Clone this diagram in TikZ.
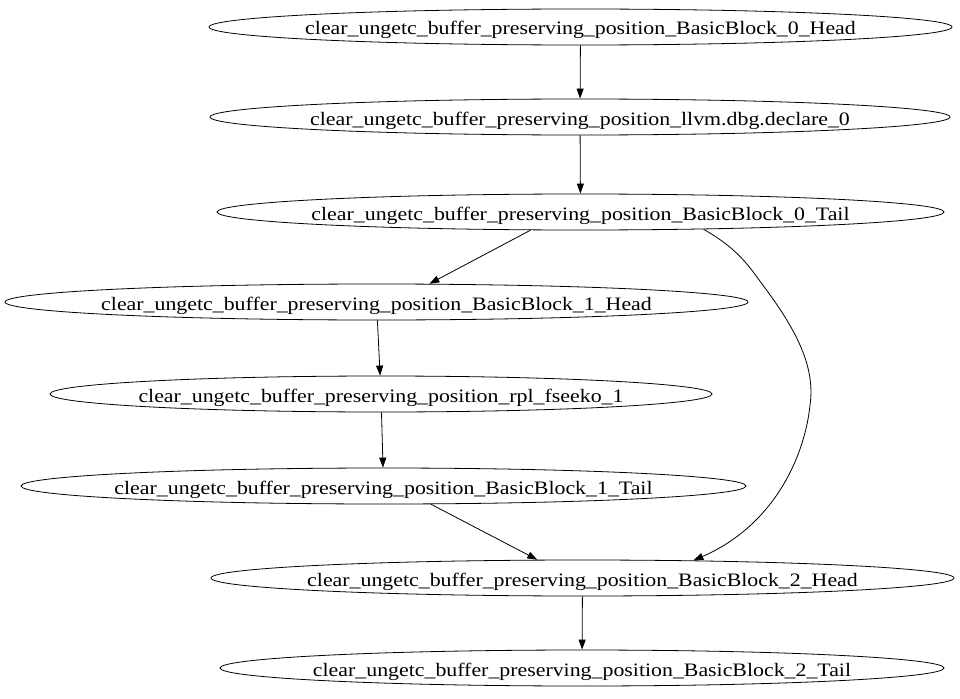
\documentclass[tikz,border=0pt]{standalone}
\usepackage{fontspec}
\newfontfamily\gvfont[FakeStretch=1.15]{Liberation Serif}
\usetikzlibrary{arrows.meta,shapes.geometric}
\newcommand\gvtext[1]{\makebox[0pt]{#1}}
\begin{document}
\begin{tikzpicture}[x=1pt,y=-1pt,
  bb/.style={draw, ellipse, line width=0.8pt, inner sep=0pt, minimum height=36pt, text height=16pt, text depth=0pt, font=\gvfont\fontsize{19}{22}\selectfont},
  edge/.style={draw, line width=0.8pt, -{Triangle[length=10pt,width=7pt]}}]
\useasboundingbox (0,0) rectangle (960,698);
\node[bb, minimum width=743pt] (n1) at (580.5,27) {\gvtext{clear\_ungetc\_buffer\_preserving\_position\_BasicBlock\_0\_Head}};
\node[bb, minimum width=740pt] (n2) at (580,117) {\gvtext{clear\_ungetc\_buffer\_preserving\_position\_llvm.dbg.declare\_0}};
\node[bb, minimum width=727pt] (n3) at (580.5,212) {\gvtext{clear\_ungetc\_buffer\_preserving\_position\_BasicBlock\_0\_Tail}};
\node[bb, minimum width=743pt] (n4) at (376.5,302) {\gvtext{clear\_ungetc\_buffer\_preserving\_position\_BasicBlock\_1\_Head}};
\node[bb, minimum width=662pt] (n5) at (381,394) {\gvtext{clear\_ungetc\_buffer\_preserving\_position\_rpl\_fseeko\_1}};
\node[bb, minimum width=725pt] (n6) at (383.5,486) {\gvtext{clear\_ungetc\_buffer\_preserving\_position\_BasicBlock\_1\_Tail}};
\node[bb, minimum width=743pt] (n7) at (582.5,578) {\gvtext{clear\_ungetc\_buffer\_preserving\_position\_BasicBlock\_2\_Head}};
\node[bb, minimum width=724pt] (n8) at (582,668) {\gvtext{clear\_ungetc\_buffer\_preserving\_position\_BasicBlock\_2\_Tail}};
\draw[edge] (n1) -- (n2);
\draw[edge] (n2) -- (n3);
\draw[edge] (n3.-160) -- (n4.19);
\draw[edge] (n4) -- (n5);
\draw[edge] (n5) -- (n6);
\draw[edge] (n6.-21) -- (n7.158);
\draw[edge] (n7) -- (n8);
\draw[edge] (n3.-8.5) .. controls (740,250) and (750,268) .. (765,288)
  .. controls (800,335) and (815,370) .. (810,405)
  .. controls (805,455) and (775,525) .. (n7.9.5);
\end{tikzpicture}
\end{document}
